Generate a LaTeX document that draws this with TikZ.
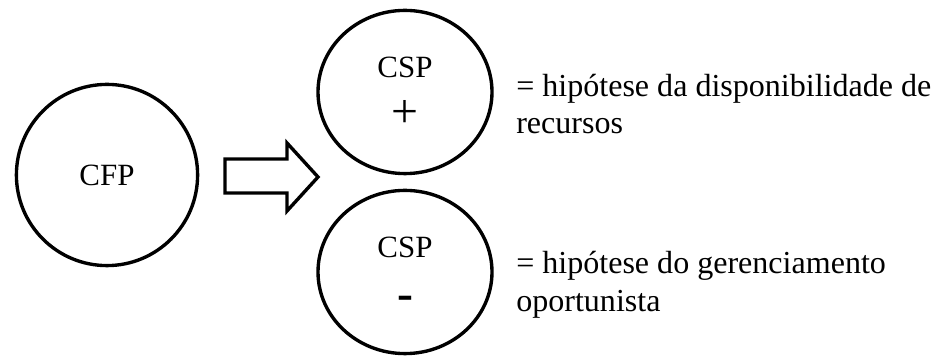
\documentclass[tikz,border=0pt]{standalone}
\usepackage{fontspec}
\setmainfont{Liberation Serif}
\usetikzlibrary{shapes.geometric}

\begin{document}
\begin{tikzpicture}[every node/.style={font=\fontsize{22}{27}\selectfont}, bubble/.style={draw, line width=2.4pt, ellipse, inner sep=0pt}, hyp/.style={anchor=west, align=left, inner sep=0pt, font=\fontsize{22.8}{27}\selectfont}]
	\useasboundingbox (0,0) rectangle (23.45,8.9);
	\node[bubble, minimum width=4.53cm, minimum height=4.53cm] (cfp) at (2.675,4.525) {CFP};
	\draw[line width=2.4pt, line join=miter] (5.625,4.925) -- (7.175,4.925) -- (7.175,5.325) -- (7.95,4.475) -- (7.175,3.625) -- (7.175,4.075) -- (5.625,4.075) -- cycle;
	\foreach \n/\y/\s/\d in {up/6.6/+/0.54, down/2.1/\textbf{-}/0.76} {
		\node[bubble, minimum width=4.35cm, minimum height=4.08cm] (csp\n) at (10.125,\y) {};
		\node (name\n) at ([yshift=0.62cm]csp\n.center) {CSP};
		\node[font=\fontsize{34}{34}\selectfont] (sign\n) at ([yshift=-\d cm]csp\n.center) {\s};
	}
	\node[hyp] (hipup) at (12.9,6.3) {= hipótese da disponibilidade de\\recursos};
	\node[hyp] (hipdown) at (12.9,1.78) {= hipótese do gerenciamento\\oportunista};
\end{tikzpicture}
\end{document}
